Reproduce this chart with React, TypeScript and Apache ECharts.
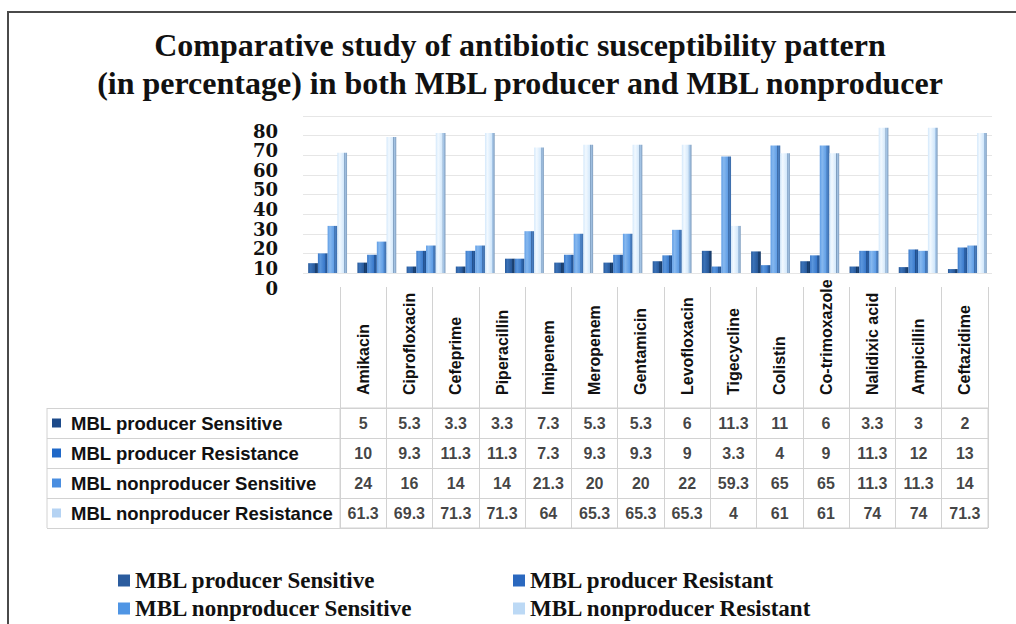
import React, { useEffect, useRef } from "react";
import * as echarts from "echarts";

const categories = [
  "Amikacin", "Ciprofloxacin", "Cefeprime", "Piperacillin", "Imipenem", "Meropenem", "Gentamicin",
  "Levofloxacin", "Tigecycline", "Colistin", "Co-trimoxazole", "Nalidixic acid", "Ampicillin", "Ceftazidime",
];

const seriesNames = [
  "MBL producer Sensitive",
  "MBL producer Resistant",
  "MBL nonproducer Sensitive",
  "MBL nonproducer Resistant",
];

const rowLabels = [
  "MBL producer Sensitive",
  "MBL producer Resistance",
  "MBL nonproducer Sensitive",
  "MBL nonproducer Resistance",
];

// bar heights
const producerSensitive = [5, 5.3, 3.3, 3.3, 7.3, 5.3, 5.3, 6, 11.3, 11, 6, 3.3, 3, 2];
const producerResistant = [10, 9.3, 11.3, 11.3, 7.3, 9.3, 9.3, 9, 3.3, 4, 9, 11.3, 12, 13];
const nonproducerSensitive = [24, 16, 14, 14, 21.3, 20, 20, 22, 59.3, 65, 65, 11.3, 11.3, 14];
const nonproducerResistant = [61.3, 69.3, 71.3, 71.3, 64, 65.3, 65.3, 65.3, 24, 61, 61, 74, 74, 71.3];

// values printed in the data table
const tableProducerSensitive = ["5", "5.3", "3.3", "3.3", "7.3", "5.3", "5.3", "6", "11.3", "11", "6", "3.3", "3", "2"];
const tableProducerResistance = ["10", "9.3", "11.3", "11.3", "7.3", "9.3", "9.3", "9", "3.3", "4", "9", "11.3", "12", "13"];
const tableNonproducerSensitive = ["24", "16", "14", "14", "21.3", "20", "20", "22", "59.3", "65", "65", "11.3", "11.3", "14"];
const tableNonproducerResistance = ["61.3", "69.3", "71.3", "71.3", "64", "65.3", "65.3", "65.3", "4", "61", "61", "74", "74", "71.3"];

const yTicks = { min: 0, max: 80, interval: 10 };

const SERIF = "'Liberation Serif', 'Times New Roman', serif";
const SANS = "'Liberation Sans', Arial, sans-serif";

const barPalettes = [
  { light: "#3a72b8", main: "#28599a", edge: "#143764", side: "#1e4679" },
  { light: "#5b97dd", main: "#3b7acb", edge: "#214f8c", side: "#2c62a8" },
  { light: "#86b8ef", main: "#5f9de5", edge: "#3b6aa6", side: "#4b82c6" },
  { light: "#f2f9ff", main: "#d3e8fb", edge: "#7e9cbd", side: "#a9c9ea" },
];
const legendColors = ["#2b5c9e", "#2a68bf", "#4f95e4", "#bcd9f5"];
const tableIconColors = ["#1c4a8a", "#1f68c8", "#4a8ee0", "#b5d3f3"];

export default function App() {
  const ref = useRef<HTMLDivElement>(null);

  useEffect(() => {
    if (!ref.current) return;
    const chart = echarts.init(ref.current, undefined, { renderer: "svg" });

    const barData = [producerSensitive, producerResistant, nonproducerSensitive, nonproducerResistant];
    const tableRows = [tableProducerSensitive, tableProducerResistance, tableNonproducerSensitive, tableNonproducerResistance];

    const barSeries = seriesNames.map((name, i) => {
      const p = barPalettes[i];
      return {
        name,
        type: "bar",
        xAxisIndex: 0,
        yAxisIndex: 0,
        data: barData[i],
        barGap: "0%",
        barCategoryGap: "21%",
        itemStyle: {
          color: new echarts.graphic.LinearGradient(0, 0, 1, 0, [
            { offset: 0, color: p.main },
            { offset: 0.25, color: p.light },
            { offset: 0.68, color: p.main },
            { offset: 0.72, color: p.edge },
            { offset: 0.78, color: p.side },
            { offset: 1, color: p.edge },
          ]),
        },
        silent: true,
      };
    });

    const cellData: any[] = [];
    tableRows.forEach((row, r) => {
      row.forEach((txt, c) => {
        cellData.push([c, r, txt]);
      });
    });

    const rich: any = {
      t: { fontSize: 18.5, fontWeight: "bold", fontFamily: SANS, color: "#111", padding: [0, 0, 0, 10] },
    };
    tableIconColors.forEach((c, i) => {
      rich["i" + i] = { width: 9, height: 9, backgroundColor: c };
    });

    const legendText = { fontSize: 23, fontWeight: "bold", fontFamily: SERIF, color: "#111" };

    chart.setOption({
      animation: false,
      backgroundColor: "#ffffff",
      title: {
        text: "Comparative study of antibiotic susceptibility pattern\n(in percentage) in both MBL producer and MBL nonproducer",
        left: 515,
        textAlign: "center",
        top: 21,
        textStyle: { fontSize: 32, fontWeight: "bold", fontFamily: SERIF, color: "#111", lineHeight: 38 },
      },
      legend: [
        {
          data: [
            { name: seriesNames[0], itemStyle: { color: legendColors[0] } },
            { name: seriesNames[2], itemStyle: { color: legendColors[2] } },
          ],
          orient: "vertical",
          left: 118,
          top: 569,
          padding: 0,
          icon: "rect",
          itemWidth: 12,
          itemHeight: 12,
          itemGap: 5,
          selectedMode: false,
          textStyle: legendText,
        },
        {
          data: [
            { name: seriesNames[1], itemStyle: { color: legendColors[1] } },
            { name: seriesNames[3], itemStyle: { color: legendColors[3] } },
          ],
          orient: "vertical",
          left: 513,
          top: 569,
          padding: 0,
          icon: "rect",
          itemWidth: 12,
          itemHeight: 12,
          itemGap: 5,
          selectedMode: false,
          textStyle: legendText,
        },
      ],
      grid: [
        { left: 303, right: 24, top: 116, bottom: 351 },
        { left: 340, right: 28, top: 408, bottom: 96, show: true, borderColor: "#d2d2d2", borderWidth: 1 },
        // label-only scale, drawn a little lower than the gridlines as in the reference
        { left: 303, right: 24, top: 131, bottom: 336 },
      ],
      xAxis: [
        {
          gridIndex: 0,
          type: "category",
          data: categories,
          axisLine: { show: false },
          axisTick: { show: false },
          axisLabel: { show: false },
        },
        {
          gridIndex: 1,
          type: "category",
          position: "top",
          data: categories,
          axisLabel: {
            rotate: -90,
            margin: 13,
            interval: 0,
            fontSize: 16,
            fontWeight: "bold",
            fontFamily: SANS,
            color: "#111",
          },
          axisTick: { show: true, length: 121, interval: 0, lineStyle: { color: "#d2d2d2" } },
          axisLine: { show: true, lineStyle: { color: "#d2d2d2" } },
          splitLine: { show: true, interval: 0, lineStyle: { color: "#d2d2d2" } },
        },
        {
          gridIndex: 2,
          type: "category",
          data: categories,
          show: false,
        },
      ],
      yAxis: [
        {
          gridIndex: 0,
          type: "value",
          min: yTicks.min,
          max: yTicks.max,
          interval: yTicks.interval,
          axisLine: { show: false },
          axisTick: { show: false },
          axisLabel: { show: false },
          splitLine: { lineStyle: { color: "#e6e6e6" } },
        },
        {
          gridIndex: 1,
          type: "category",
          inverse: true,
          data: rowLabels,
          axisLine: { show: true, lineStyle: { color: "#d2d2d2" } },
          axisTick: { show: true, length: 293, lineStyle: { color: "#d2d2d2" } },
          splitLine: { show: true, lineStyle: { color: "#d2d2d2" } },
          axisLabel: {
            align: "left",
            margin: 288,
            formatter: (value: string, index: number) => `{i${index}|}{t|${value}}`,
            rich,
          },
        },
        {
          gridIndex: 2,
          type: "value",
          min: yTicks.min,
          max: yTicks.max,
          interval: yTicks.interval,
          axisLine: { show: false },
          axisTick: { show: false },
          splitLine: { show: false },
          axisLabel: {
            margin: 25,
            fontSize: 18,
            fontWeight: "bold",
            fontFamily: "'DejaVu Serif', serif",
            color: "#111",
            lineHeight: 18,
            showMinLabel: true,
            showMaxLabel: true,
          },
        },
      ],
      graphic: [
        {
          type: "line",
          shape: { x1: 47, y1: 408, x2: 47, y2: 528 },
          style: { stroke: "#d2d2d2", lineWidth: 1 },
          silent: true,
        },
        {
          type: "rect",
          shape: { x: 8, y: 12, width: 1100, height: 700 },
          style: { fill: "none", stroke: "#4a4a4a", lineWidth: 2 },
          silent: true,
        },
      ],
      series: [
        ...barSeries,
        {
          type: "scatter",
          xAxisIndex: 1,
          yAxisIndex: 1,
          data: cellData,
          symbolSize: 1,
          itemStyle: { color: "rgba(0,0,0,0)" },
          silent: true,
          label: {
            show: true,
            position: "inside",
            formatter: (p: any) => p.value[2],
            fontSize: 16,
            fontWeight: "bold",
            fontFamily: SANS,
            color: "#111",
          },
        },
      ],
    });

    return () => chart.dispose();
  }, []);

  return (
    <div
      ref={ref}
      style={{ position: "fixed", left: 0, top: 0, width: 1016, height: 624, background: "#fff" }}
    />
  );
}
